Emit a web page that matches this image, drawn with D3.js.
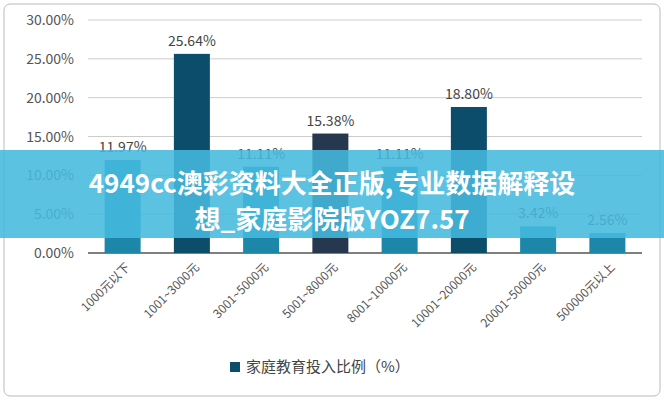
<!DOCTYPE html><html><head><meta charset="utf-8"><script src="https://cdn.jsdelivr.net/npm/d3@7"></script>
<style>body{margin:0;background:#fff}</style></head><body><svg id="c" width="664" height="400"></svg>
<script>
const categories=["1000元以下","1001~3000元","3001~5000元","5001~8000元","8001~10000元","10001~20000元","20001~50000元","500000元以上"];
const values=[11.97,25.64,11.11,15.38,11.11,18.80,3.42,2.56];
const barColors=["#1c87a8","#0b4d6a","#1c87a8","#25384f","#1c87a8","#0b4d6a","#1c87a8","#1c87a8"];
const yTicks=[0,5,10,15,20,25,30];
const title1="4949cc澳彩资料大全正版,专业数据解释设";
const title2="想_家庭影院版YOZ7.57";
const legendLabel="家庭教育投入比例（%）";
const svg=d3.select("#c");
const font="'Noto Sans CJK SC',Arial,sans-serif";
svg.append("rect").attr("x",4).attr("y",4).attr("width",656).attr("height",392).attr("rx",6).attr("fill","#fff").attr("stroke","#bbb");
const x=d3.scaleBand().domain(categories).range([88,642]).paddingInner(0.48).paddingOuter(0.24);
const y=d3.scaleLinear().domain([0,30]).range([253,20]);
svg.append("g").selectAll("line").data(yTicks).join("line").attr("x1",88).attr("x2",642).attr("y1",d=>y(d)).attr("y2",d=>y(d)).attr("stroke",d=>d===0?"#555":"#ccc").attr("stroke-width",d=>d===0?1.5:1);
svg.append("g").selectAll("text").data(yTicks).join("text").attr("x",74).attr("y",d=>y(d)+5).attr("text-anchor","end").attr("font-family",font).attr("font-size",14).attr("fill","#555").text(d=>d.toFixed(2)+"%");
svg.append("g").selectAll("rect").data(values).join("rect").attr("x",(d,i)=>x(categories[i])).attr("width",x.bandwidth()).attr("y",d=>y(d)).attr("height",d=>y(0)-y(d)).attr("fill",(d,i)=>barColors[i]);
svg.append("g").selectAll("text").data(values).join("text").attr("x",(d,i)=>x(categories[i])+x.bandwidth()/2).attr("y",d=>y(d)-8).attr("text-anchor","middle").attr("font-family",font).attr("font-size",14).attr("fill","#444").text(d=>d.toFixed(2)+"%");
svg.append("g").selectAll("text").data(categories).join("text").attr("transform",(d)=>`translate(${x(d)+x.bandwidth()/2+8},${268}) rotate(-45)`).attr("text-anchor","end").attr("font-family",font).attr("font-size",12).attr("fill","#555").text(d=>d);
svg.append("rect").attr("x",230).attr("y",362).attr("width",10).attr("height",10).attr("fill","#0b4d6a");
svg.append("text").attr("x",246).attr("y",372).attr("font-family",font).attr("font-size",15).attr("fill","#444").text(legendLabel);
svg.append("rect").attr("x",0).attr("y",150).attr("width",664).attr("height",88).attr("fill","rgba(70,185,222,0.88)");
svg.append("text").attr("x",332).attr("y",193).attr("text-anchor","middle").attr("font-family",font).attr("font-weight","bold").attr("font-size",26).attr("fill","#fff").text(title1);
svg.append("text").attr("x",332).attr("y",229).attr("text-anchor","middle").attr("font-family",font).attr("font-weight","bold").attr("font-size",26).attr("fill","#fff").text(title2);
</script></body></html>
